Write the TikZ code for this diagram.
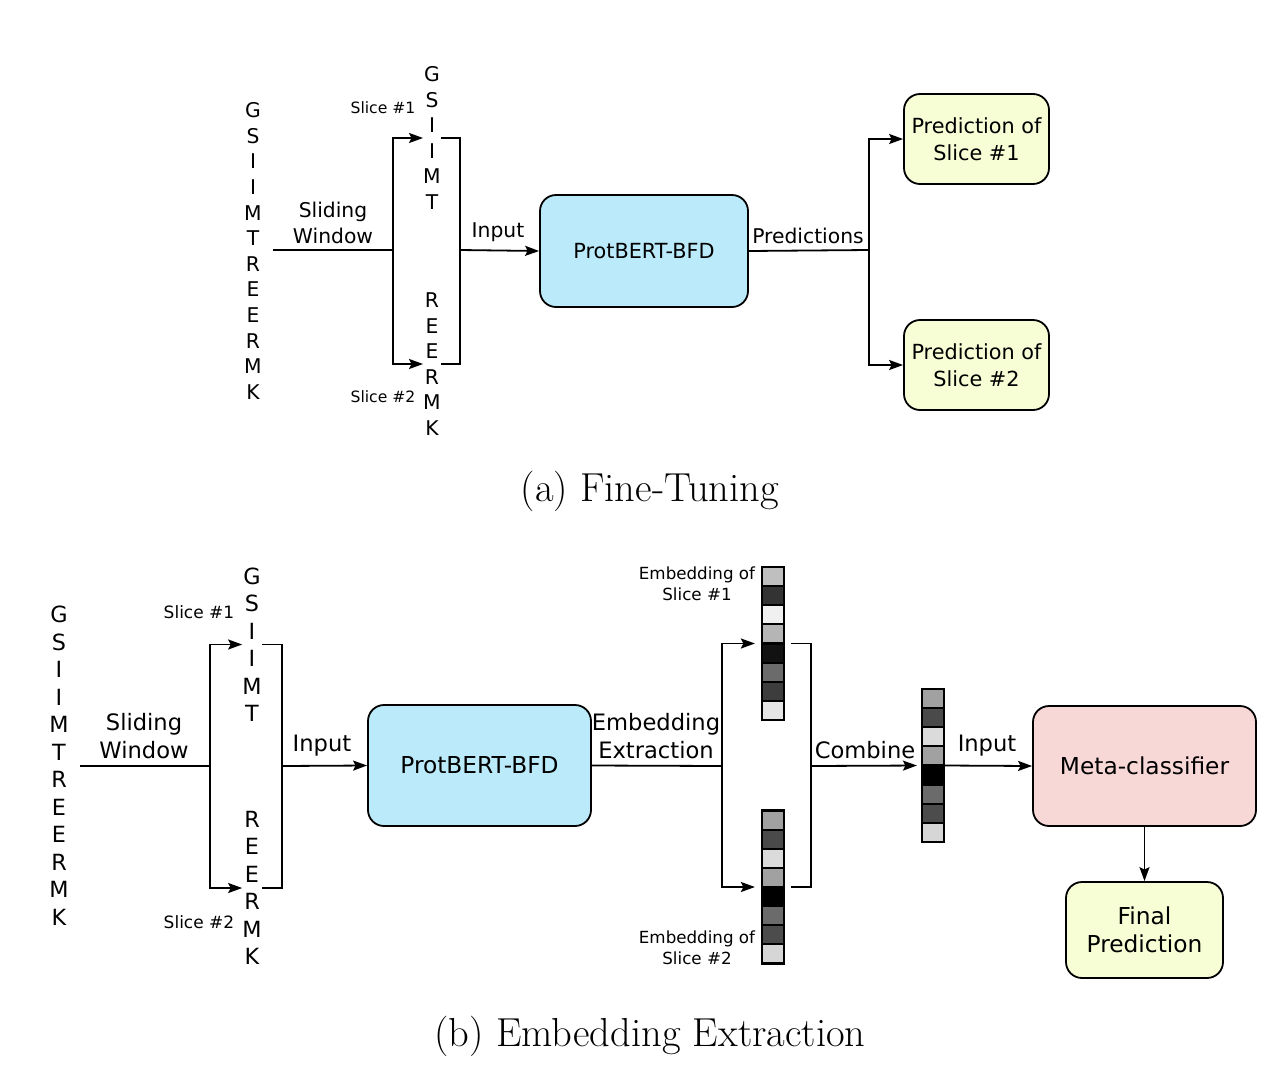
\documentclass[tikz,border=0pt]{standalone}
\usepackage{fontspec}
\newfontfamily\dvs{DejaVu Sans}
\usetikzlibrary{arrows.meta}
\definecolor{bertblue}{HTML}{BBEBFA}
\definecolor{predyel}{HTML}{F7FDD5}
\definecolor{metapink}{HTML}{F8D7D7}
\begin{document}
\begin{tikzpicture}[x=1pt,y=-1pt,
  conn/.style={line width=1.8pt},
  arr/.style={conn,-{Stealth[length=14pt,width=10pt,inset=2.5pt]}},
  ltrA/.style={font=\dvs\fontsize{20.3}{25.6}\selectfont, align=center, inner sep=0pt},
  ltrB/.style={font=\dvs\fontsize{22.3}{27.5}\selectfont, align=center, inner sep=0pt},
  lblA/.style={font=\dvs\fontsize{20.3}{26}\selectfont, align=center, inner sep=0pt},
  lblB/.style={font=\dvs\fontsize{22.6}{28}\selectfont, align=center, inner sep=0pt},
  smA/.style={font=\dvs\fontsize{15.6}{20}\selectfont, align=center, inner sep=0pt},
  smB/.style={font=\dvs\fontsize{17}{21}\selectfont, align=center, inner sep=0pt},
  smE/.style={font=\dvs\fontsize{16.7}{21}\selectfont, align=center, inner sep=0pt},
  box/.style={draw, line width=1.8pt, rounded corners=16pt, align=center, inner sep=0pt},
  boxA/.style={box, font=\dvs\fontsize{20.8}{27}\selectfont},
  boxB/.style={box, font=\dvs\fontsize{23.3}{28}\selectfont},
  capt/.style={font=\fontsize{40.5}{48}\selectfont, inner sep=0pt},
  cellst/.style={draw=black, line width=2.2pt},
  barst/.style={draw=black, line width=2.2pt, minimum width=22pt, minimum height=153pt, inner sep=0pt}
]
\useasboundingbox (0,0) rectangle (1272,1066);

%% ---------------- (a) Fine-Tuning ----------------
\node[ltrA] (seqA) at (253,251) {G\\S\\I\\I\\M\\T\\R\\E\\E\\R\\M\\K};
\node[ltrA] (s1a) at (432,138) {G\\S\\I\\I\\M\\T};
\node[ltrA] (s1b) at (432,364) {R\\E\\E\\R\\M\\K};
\node[smA] (sl1A) at (383,108) {Slice \#1};
\node[smA] (sl2A) at (383,397) {Slice \#2};
\node[lblA] (swA) at (333,223) {Sliding\\Window};
\node[boxA, fill=bertblue, minimum width=208pt, minimum height=112pt] (bertA) at (644,251) {ProtBERT-BFD};
\node[lblA] (inA) at (498,232) {Input};
\node[lblA] (prA) at (808,236) {Predictions};
\node[boxA, fill=predyel, minimum width=145pt, minimum height=90pt] (pred1) at (976.5,139) {Prediction of\\Slice \#1};
\node[boxA, fill=predyel, minimum width=145pt, minimum height=90pt] (pred2) at (976.5,365) {Prediction of\\Slice \#2};

\coordinate (startA) at (273,250);
\coordinate (spA) at (393,250);
\coordinate (mgA) at (460,250);
\coordinate (spP) at (869,250);

\draw[conn] (startA) -- (spA);
\draw[arr] (spA) |- (s1a.west);
\draw[arr] (spA) |- (s1b.west);
\draw[conn] (s1a.east) -| (mgA) |- (s1b.east);
\draw[arr] (mgA) -- (bertA.west);
\draw[conn] (bertA.east) -- (spP);
\draw[arr] (spP) |- (pred1.west);
\draw[arr] (spP) |- (pred2.west);

\node[capt] (capA) at (650,491) {(a) Fine-Tuning};

%% ---------------- (b) Embedding Extraction ----------------
\node[ltrB] (seqB) at (59,765.5) {G\\S\\I\\I\\M\\T\\R\\E\\E\\R\\M\\K};
\node[ltrB] (s2a) at (252,644.5) {G\\S\\I\\I\\M\\T};
\node[ltrB] (s2b) at (252,888) {R\\E\\E\\R\\M\\K};
\node[smB] (sl1B) at (199,612) {Slice \#1};
\node[smB] (sl2B) at (199,922) {Slice \#2};
\node[lblB] (swB) at (144,736) {Sliding\\Window};
\node[boxB, fill=bertblue, minimum width=223pt, minimum height=121pt] (bertB) at (479.5,765.5) {ProtBERT-BFD};
\node[lblB] (inB) at (322,746) {Input};
\node[lblB] (eeB) at (656,736) {Embedding\\Extraction};
\node[lblB] (cbB) at (865,750) {Combine};
\node[lblB] (in2B) at (987,746) {Input};
\node[boxB, fill=metapink, minimum width=223pt, minimum height=120pt] (meta) at (1144.5,766) {Meta-classifier};
\node[boxB, fill=predyel, minimum width=157pt, minimum height=96pt] (final) at (1144.5,930) {Final\\Prediction};
\node[smE] (em1) at (697,584) {Embedding of\\Slice \#1};
\node[smE] (em2) at (697,948) {Embedding of\\Slice \#2};

% embedding bars
\foreach \g [count=\i from 0] in {25,80,6,29,93,58,76,10}
  \filldraw[cellst, fill=black!\g] (762,{567+\i*19.125}) rectangle ++(22,19.125);
\node[barst] (bar1) at (773,643.5) {};
\foreach \g [count=\i from 0] in {37,71,14,37,100,58,70,16}
  \filldraw[cellst, fill=black!\g] (762,{810.5+\i*19.125}) rectangle ++(22,19.125);
\node[barst] (bar2) at (773,887) {};
\foreach \g [count=\i from 0] in {37,71,14,37,100,58,70,16}
  \filldraw[cellst, fill=black!\g] (922,{689+\i*19.125}) rectangle ++(22,19.125);
\node[barst] (comb) at (933,765.5) {};

\coordinate (startB) at (80,766);
\coordinate (spB) at (210,766);
\coordinate (mgB) at (282,766);
\coordinate (spE) at (722,766);
\coordinate (mgE) at (811,766);

\draw[conn] (startB) -- (spB);
\draw[arr] (spB) |- (s2a.west);
\draw[arr] (spB) |- (s2b.west);
\draw[conn] (s2a.east) -| (mgB) |- (s2b.east);
\draw[arr] (mgB) -- (bertB.west);
\draw[conn] (bertB.east) -- (spE);
\draw[arr, shorten >=6pt] (spE) |- (bar1.west);
\draw[arr, shorten >=6pt] (spE) |- (bar2.west);
\draw[conn] ([xshift=6pt]bar1.east) -| (mgE) |- ([xshift=6pt]bar2.east);
\draw[arr, shorten >=4pt] (mgE) -- (comb.west);
\draw[arr] (comb.east) -- (meta.west);
\draw[arr] (meta.south) -- (final.north);

\node[capt] (capB) at (650,1036) {(b) Embedding Extraction};
\end{tikzpicture}
\end{document}
